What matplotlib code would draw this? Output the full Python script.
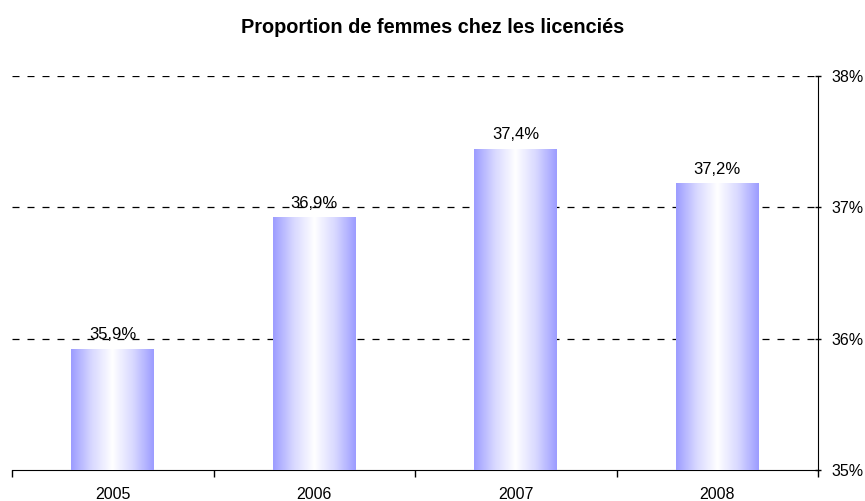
import numpy as np
import matplotlib.pyplot as plt
from matplotlib.colors import LinearSegmentedColormap
from matplotlib.ticker import FixedLocator

plt.rcParams['font.family'] = ['Liberation Sans', 'DejaVu Sans']

years = ['2005', '2006', '2007', '2008']
values = [35.92, 36.92, 37.44, 37.18]
labels = ['35,9%', '36,9%', '37,4%', '37,2%']
yticks = [35, 36, 37, 38]

fig = plt.figure(figsize=(8.65, 5.01), dpi=100)
ax = fig.add_axes([0.0139, 0.062, 0.9318, 0.786])

x = np.arange(len(years))
bars = ax.bar(x, [v - 35 for v in values], bottom=35, width=0.41, color='none', zorder=3)

# horizontal gradient blue -> white -> blue
cmap = LinearSegmentedColormap.from_list('grad', ['#9c9cff', '#d8d8ff', '#ffffff', '#d8d8ff', '#9c9cff'])
grad = np.linspace(0, 1, 256).reshape(1, -1)
for b in bars:
    x0, y0 = b.get_x(), b.get_y()
    ax.imshow(grad, cmap=cmap, aspect='auto', extent=[x0, x0 + b.get_width(), y0, y0 + b.get_height()],
              zorder=3, interpolation='bicubic')

for xi, v, lab in zip(x, values, labels):
    ax.text(xi, v + 0.055, lab, ha='center', va='bottom', fontsize=12, zorder=4)

ax.set_xlim(-0.5, len(years) - 0.5)
ax.set_ylim(35, 38)
ax.set_xticks(x)
ax.set_xticklabels(years, fontsize=11.5)
ax.tick_params(axis='x', which='major', length=0, pad=12)
ax.xaxis.set_minor_locator(FixedLocator(np.arange(-0.5, len(years), 1)))
ax.tick_params(axis='x', which='minor', length=5, direction='out', width=1)

ax.yaxis.tick_right()
ax.set_yticks(yticks)
ax.set_yticklabels([f'{t}%' for t in yticks], fontsize=11.5)
ax.tick_params(axis='y', length=5, direction='inout', width=1, pad=7)

for t in yticks[1:]:
    ax.axhline(t, color='black', linestyle=(0, (5.6, 6.4)), linewidth=0.9, zorder=1)

ax.spines['top'].set_visible(False)
ax.spines['left'].set_visible(False)

fig.suptitle('Proportion de femmes chez les licenciés', fontsize=14.3, fontweight='bold', y=0.965)

plt.savefig('out.png', dpi=100)
